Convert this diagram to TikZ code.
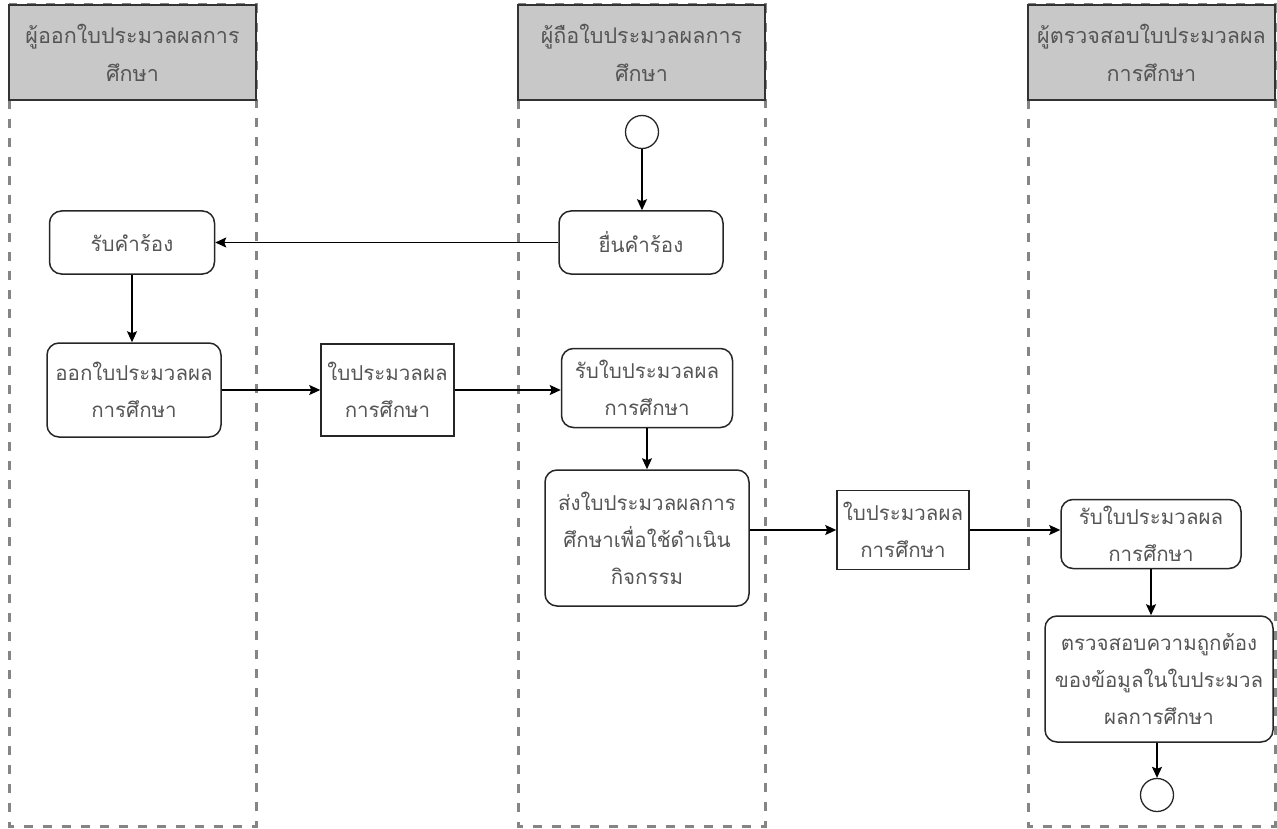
\documentclass[tikz,border=0pt]{standalone}
\usepackage{fontspec}
\setmainfont[Script=Thai]{Loma}
\usetikzlibrary{arrows.meta}
\definecolor{txtgray}{HTML}{555555}
\definecolor{headgray}{HTML}{C8C8C8}
\definecolor{lanegray}{HTML}{858585}
\tikzstyle{lane} = [draw=lanegray, line width=3pt, dash pattern=on 9pt off 10pt]
\tikzstyle{head} = [draw=black!80, fill=headgray, line width=1.4pt, minimum width=247pt, minimum height=95pt, text=txtgray, align=center, font=\fontsize{21.5}{38}\selectfont]
\tikzstyle{act} = [draw=black!85, rounded corners=12pt, line width=1.5pt, text=txtgray, align=center]
\tikzstyle{doc} = [draw=black!85, line width=1.5pt, text=txtgray, align=center]
\tikzstyle{event} = [draw=black!85, circle, line width=1.3pt, minimum size=33pt, inner sep=0pt]
\tikzstyle{arrow} = [line width=1.4pt, -{Stealth[length=11pt, width=10pt, inset=2pt]}]

\begin{document}
\begin{tikzpicture}[x=1pt, y=-1pt, font=\fontsize{20.5}{37}\selectfont]
	\useasboundingbox (0,0) rectangle (1277,829);
	\draw[lane] (9,5) rectangle (256,826);
	\draw[lane] (518,5) rectangle (765,826);
	\draw[lane] (1028,5) rectangle (1275,826);
	\node[head](hissue) at (132.5,52.5){ผู้ออกใบประมวลผลการ\\ศึกษา};
	\node[head](hhold) at (641.5,52.5){ผู้ถือใบประมวลผลการ\\ศึกษา};
	\node[head](hcheck) at (1151.5,52.5){ผู้ตรวจสอบใบประมวลผล\\การศึกษา};
	\node[event](start) at (642,132){};
	\node[act, minimum width=164pt, minimum height=63pt](submit) at (641,242.5){ยื่นคำร้อง};
	\node[act, minimum width=165pt, minimum height=63pt](receive) at (132,242.5){รับคำร้อง};
	\node[act, minimum width=174pt, minimum height=94pt](issue) at (134,390){ออกใบประมวลผล\\การศึกษา};
	\node[doc, minimum width=133pt, minimum height=92pt](doca) at (387.5,390){ใบประมวลผล\\การศึกษา};
	\node[act, minimum width=171pt, minimum height=79pt](gethold) at (647,388){รับใบประมวลผล\\การศึกษา};
	\node[act, minimum width=204pt, minimum height=136pt](send) at (647,538){ส่งใบประมวลผลการ\\ศึกษาเพื่อใช้ดำเนิน\\กิจกรรม};
	\node[doc, minimum width=132pt, minimum height=79pt](docb) at (903,530){ใบประมวลผล\\การศึกษา};
	\node[act, minimum width=180pt, minimum height=69pt](getcheck) at (1151,534){รับใบประมวลผล\\การศึกษา};
	\node[act, minimum width=228pt, minimum height=126pt](verify) at (1159,679){ตรวจสอบความถูกต้อง\\ของข้อมูลในใบประมวล\\ผลการศึกษา};
	\node[event](end) at (1157,795){};
	\draw[arrow](start) -- (start |- submit.north);
	\draw[arrow](submit) -- (receive);
	\draw[arrow](receive) -- (receive |- issue.north);
	\draw[arrow](issue.east |- doca.west) -- (doca.west);
	\draw[arrow](doca.east) -- (doca.east -| gethold.west);
	\draw[arrow](gethold) -- (send);
	\draw[arrow](send.east |- docb.west) -- (docb.west);
	\draw[arrow](docb.east) -- (docb.east -| getcheck.west);
	\draw[arrow](getcheck) -- (getcheck |- verify.north);
	\draw[arrow](end |- verify.south) -- (end);
\end{tikzpicture}
\end{document}
